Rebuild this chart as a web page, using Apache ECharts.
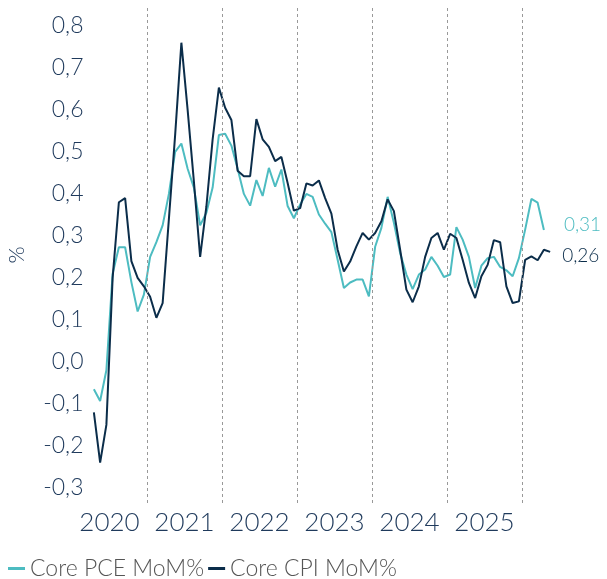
<!DOCTYPE html>
<html>
<head>
<meta charset="utf-8">
<script src="https://cdn.jsdelivr.net/npm/echarts@6/dist/echarts.min.js"></script>
<style>
  html, body { margin: 0; padding: 0; background: #fff; }
  #chart { width: 607px; height: 579px; }
</style>
</head>
<body>
<div id="chart"></div>
<script>
// month index 0 = Jan 2020
const years = ['2020', '2021', '2022', '2023', '2024', '2025'];
const yTicks = [-0.3, -0.2, -0.1, 0, 0.1, 0.2, 0.3, 0.4, 0.5, 0.6, 0.7, 0.8];

const pceStart = 3; // Apr 2020
const pce = [
  -0.065, -0.093, -0.02, 0.21, 0.273, 0.273, 0.19, 0.12, 0.16,
  0.25, 0.285, 0.325, 0.40, 0.50, 0.52, 0.46, 0.415, 0.325, 0.355, 0.415, 0.54,
  0.543, 0.515, 0.46, 0.40, 0.372, 0.433, 0.395, 0.462, 0.417, 0.458, 0.371, 0.342,
  0.375, 0.40, 0.393, 0.351, 0.329, 0.309, 0.243, 0.176, 0.189, 0.196, 0.196, 0.156,
  0.274, 0.319, 0.393, 0.331, 0.259, 0.208, 0.173, 0.208, 0.22, 0.25, 0.229, 0.202,
  0.208, 0.321, 0.291, 0.25, 0.176, 0.229, 0.247, 0.25, 0.226, 0.218, 0.204, 0.247,
  0.315, 0.388, 0.379, 0.314
];

const cpiStart = 3; // Apr 2020
const cpi = [
  -0.12, -0.24, -0.15, 0.2, 0.38, 0.39, 0.24, 0.20, 0.18,
  0.155, 0.105, 0.14, 0.34, 0.54, 0.76, 0.60, 0.43, 0.25, 0.37, 0.53, 0.653,
  0.605, 0.576, 0.455, 0.442, 0.442, 0.578, 0.53, 0.512, 0.478, 0.488, 0.426, 0.36,
  0.366, 0.425, 0.42, 0.432, 0.39, 0.353, 0.267, 0.215, 0.239, 0.275, 0.307, 0.291,
  0.307, 0.335, 0.387, 0.359, 0.267, 0.172, 0.142, 0.18, 0.25, 0.295, 0.307, 0.267,
  0.305, 0.295, 0.243, 0.188, 0.152, 0.204, 0.231, 0.29, 0.285, 0.18, 0.14, 0.144,
  0.243, 0.251, 0.242, 0.267, 0.262
];

const teal = '#4dbcc1';
const navy = '#0b2d4a';
const textColor = '#1f3a5c';
const font = 'Lato';

const toPoints = (arr, start) => arr.map((v, i) => [start + i + 0.5, v]);
const comma = (v, d) => v.toFixed(d).replace('.', ',');

const chart = echarts.init(document.getElementById('chart'));
chart.setOption({
  animation: false,
  textStyle: { fontFamily: font },
  grid: { left: 89.5, right: 50.6, top: 7, bottom: 76, containLabel: false, outerBoundsMode: 'none' },
  legend: {
    data: ['Core PCE MoM%', 'Core CPI MoM%'],
    left: 3,
    top: 552,
    icon: 'rect',
    itemWidth: 17,
    itemHeight: 3,
    itemGap: 4,
    textStyle: { fontSize: 23, color: '#555', fontFamily: font, fontWeight: 300 }
  },
  xAxis: {
    type: 'value',
    min: 2.8,
    max: 77.5,
    axisLine: { show: false },
    axisTick: { show: false },
    splitLine: { show: false },
    axisLabel: {
      customValues: years.map((y, i) => i * 12 + 6),
      formatter: v => years[Math.round((v - 6) / 12)],
      fontSize: 26,
      fontWeight: 300,
      color: textColor,
      margin: 7
    }
  },
  yAxis: {
    type: 'value',
    min: -0.336,
    max: 0.845,
    name: '%',
    nameLocation: 'middle',
    nameRotate: 90,
    nameGap: 62,
    nameTextStyle: { fontSize: 22, color: textColor, fontWeight: 300 },
    axisLine: { show: false },
    axisTick: { show: false },
    splitLine: { show: false },
    axisLabel: {
      customValues: yTicks,
      formatter: v => comma(v, 1),
      fontSize: 23,
      fontWeight: 300,
      color: textColor,
      margin: 6
    }
  },
  series: [
    {
      name: 'Core PCE MoM%',
      type: 'line',
      data: toPoints(pce, pceStart),
      symbol: 'none',
      lineStyle: { color: teal, width: 2 },
      itemStyle: { color: teal },
      z: 3,
      endLabel: {
        show: true,
        formatter: p => comma(p.value[1], 2),
        color: teal,
        fontSize: 19,
        fontWeight: 300,
        distance: 0,
        offset: [20, -5]
      },
      markLine: {
        silent: true,
        symbol: ['none', 'none'],
        label: { show: false },
        lineStyle: { color: '#999', width: 1, type: [3, 3] },
        data: years.map((y, i) => ({ xAxis: (i + 1) * 12 }))
      }
    },
    {
      name: 'Core CPI MoM%',
      type: 'line',
      data: toPoints(cpi, cpiStart),
      symbol: 'none',
      lineStyle: { color: navy, width: 2 },
      itemStyle: { color: navy },
      z: 4,
      endLabel: {
        show: true,
        formatter: p => comma(p.value[1], 2),
        color: navy,
        fontSize: 19,
        fontWeight: 300,
        distance: 0,
        offset: [12, 4]
      }
    }
  ]
});
</script>
</body>
</html>
